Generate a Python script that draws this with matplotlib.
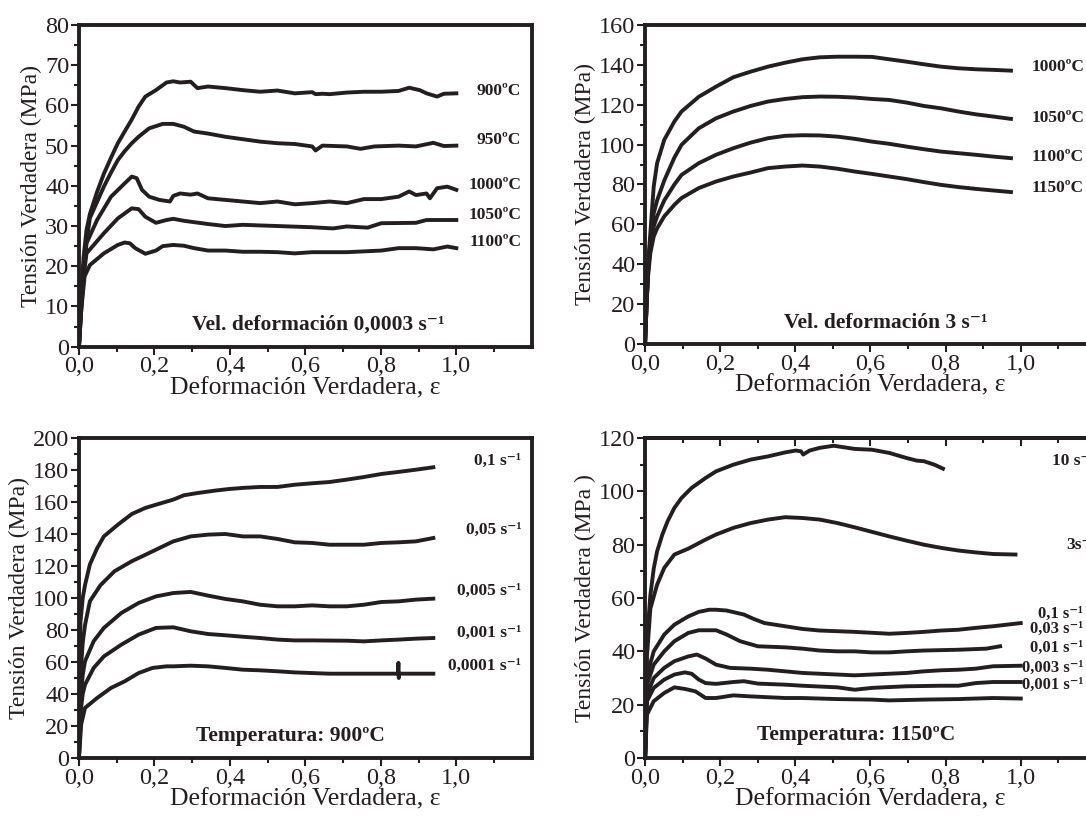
import matplotlib
matplotlib.use('Agg')
import matplotlib.pyplot as plt
from matplotlib.ticker import MultipleLocator, FixedLocator, FuncFormatter

plt.rcParams['font.family'] = ['Liberation Serif', 'DejaVu Serif']

ink = '#231f20'
sup = '\u207b\u00b9'  # superindice -1

# --- Panel 1: velocidad 0,0003 s-1, distintas temperaturas ---
x_900 = [0, 0.006, 0.012, 0.020, 0.029, 0.048, 0.066, 0.085, 0.103, 0.121, 0.140, 0.158, 0.176, 0.204,
         0.232, 0.250, 0.268, 0.296, 0.314, 0.342, 0.388, 0.434, 0.480, 0.526, 0.572, 0.618, 0.627,
         0.645, 0.664, 0.710, 0.755, 0.801, 0.847, 0.875, 0.903, 0.921, 0.949, 0.967, 1.0]
y_900 = [0, 12, 22, 29, 33, 38.5, 43, 47, 50.6, 53.5, 56.5, 59.7, 62.2, 63.8,
         65.7, 66, 65.7, 65.9, 64.3, 64.7, 64.3, 63.8, 63.4, 63.7, 63.0, 63.3, 62.8,
         62.9, 62.8, 63.2, 63.4, 63.4, 63.6, 64.4, 63.8, 63.0, 62.2, 62.9, 63.0]

x_950 = [0, 0.006, 0.012, 0.020, 0.029, 0.048, 0.066, 0.085, 0.103, 0.121, 0.140, 0.158, 0.186, 0.222,
         0.250, 0.278, 0.305, 0.342, 0.388, 0.434, 0.480, 0.526, 0.572, 0.618, 0.627, 0.645, 0.710,
         0.746, 0.783, 0.847, 0.893, 0.939, 0.967, 1.0]
y_950 = [0, 11, 20, 26, 32, 36, 39.8, 43.3, 46.4, 48.6, 50.6, 52.2, 54.3, 55.4,
         55.4, 54.7, 53.5, 53, 52.2, 51.6, 51, 50.6, 50.4, 49.8, 48.8, 50, 49.8,
         49.2, 49.8, 50, 49.8, 50.7, 49.9, 50]

x_1000 = [0, 0.006, 0.012, 0.020, 0.048, 0.085, 0.121, 0.140, 0.153, 0.167, 0.186, 0.213, 0.241, 0.250,
          0.268, 0.296, 0.314, 0.342, 0.388, 0.434, 0.480, 0.526, 0.572, 0.618, 0.664, 0.710, 0.755,
          0.801, 0.847, 0.875, 0.893, 0.921, 0.930, 0.949, 0.976, 1.0]
y_1000 = [0, 10, 18, 25.7, 31.5, 37.3, 40.6, 42.3, 41.9, 39, 37.3, 36.5, 36.1, 37.5,
          38.1, 37.8, 38.1, 36.9, 36.5, 36.1, 35.7, 36.1, 35.4, 35.7, 36.1, 35.7, 36.7,
          36.7, 37.3, 38.6, 37.7, 38.1, 36.9, 39.4, 39.8, 39.0]

x_1050 = [0, 0.006, 0.012, 0.020, 0.066, 0.103, 0.140, 0.158, 0.176, 0.204, 0.232, 0.250, 0.278, 0.342,
          0.388, 0.434, 0.526, 0.618, 0.673, 0.710, 0.765, 0.801, 0.893, 0.921, 1.0]
y_1050 = [0, 9, 17, 23.2, 28.2, 31.9, 34.4, 34.2, 32.3, 30.8, 31.5, 31.8, 31.3, 30.5,
          30.0, 30.3, 30.0, 29.7, 29.4, 29.9, 29.6, 30.7, 30.8, 31.5, 31.5]

x_1100 = [0, 0.006, 0.015, 0.029, 0.066, 0.103, 0.121, 0.135, 0.149, 0.176, 0.204, 0.222, 0.250, 0.278,
          0.305, 0.342, 0.388, 0.434, 0.480, 0.526, 0.572, 0.618, 0.710, 0.801, 0.847, 0.893, 0.939,
          0.976, 1.0]
y_1100 = [0, 9, 17.5, 20.3, 23.2, 25.3, 25.9, 25.7, 24.5, 23.1, 23.9, 25, 25.3, 25.1,
          24.5, 23.9, 23.9, 23.6, 23.6, 23.5, 23.2, 23.5, 23.5, 23.9, 24.5, 24.5, 24.2,
          24.9, 24.5]

# --- Panel 2: velocidad 3 s-1 ---
x_3s = [0, 0.004, 0.008, 0.014, 0.023, 0.032, 0.051, 0.078, 0.097, 0.143, 0.189, 0.235, 0.281, 0.327,
        0.373, 0.419, 0.465, 0.512, 0.558, 0.604, 0.650, 0.696, 0.742, 0.788, 0.834, 0.880, 0.926, 0.974]
y_3s_1000 = [0, 20, 40, 55.6, 79, 90.7, 102.4, 111.6, 116.6, 124, 129.1, 133.8, 136.6, 139.1,
             141.1, 142.8, 143.8, 144.1, 144.1, 144.0, 142.8, 141.6, 140.3, 139.1, 138.3, 137.8, 137.5, 137.1]
y_3s_1050 = [0, 20, 38, 52.3, 65.6, 72, 82, 93.5, 99.9, 108.2, 113.2, 116.6, 119.4, 121.6,
             122.9, 123.8, 124.1, 124.0, 123.6, 122.9, 122.4, 121.1, 119.4, 118.2, 116.6, 115.2, 114.1, 112.9]
y_3s_1100 = [0, 20, 36, 48.9, 59, 64, 72, 80, 84.8, 90.7, 94.9, 98.2, 101, 103.2,
             104.4, 104.7, 104.6, 104, 102.9, 101.5, 100.4, 99, 97.7, 96.5, 95.7, 94.9, 94, 93.2]
y_3s_1150 = [0, 20, 34, 45.6, 53.9, 58, 64, 69.8, 73.2, 78.2, 81.5, 84, 86, 88.2,
             89, 89.5, 89, 87.9, 86.5, 85.3, 84, 82.7, 81.2, 79.8, 78.7, 77.8, 77, 76.2]

# --- Panel 3: temperatura 900ºC ---
x_01 = [0, 0.004, 0.010, 0.016, 0.029, 0.048, 0.066, 0.103, 0.140, 0.176, 0.204, 0.250, 0.278, 0.314,
        0.360, 0.397, 0.434, 0.480, 0.526, 0.572, 0.618, 0.664, 0.710, 0.755, 0.801, 0.847, 0.893, 0.939]
y_01 = [0, 85, 100, 108, 121, 131, 138.5, 145.8, 152.5, 156.3, 158.3, 161.5, 164.2, 165.6,
        167.1, 168.1, 168.8, 169.4, 169.4, 170.8, 171.7, 172.5, 174, 175.6, 177.5, 178.8, 180.2, 181.7]

x_005 = [0, 0.005, 0.010, 0.016, 0.029, 0.057, 0.094, 0.140, 0.176, 0.204, 0.250, 0.296, 0.342, 0.388,
         0.434, 0.480, 0.526, 0.572, 0.618, 0.664, 0.710, 0.755, 0.801, 0.847, 0.893, 0.939]
y_005 = [0, 55, 72, 83, 98, 108, 116.7, 123, 127, 130.2, 135.4, 138.5, 139.6, 140,
         138.5, 138.5, 136.9, 134.8, 134.4, 133.3, 133.3, 133.3, 134.4, 134.8, 135.4, 137.5]

x_0005 = [0, 0.005, 0.010, 0.016, 0.039, 0.066, 0.112, 0.158, 0.204, 0.250, 0.296, 0.342, 0.388, 0.434,
          0.480, 0.526, 0.572, 0.618, 0.664, 0.710, 0.755, 0.801, 0.847, 0.893, 0.939]
y_0005 = [0, 38, 52, 60.4, 73, 81.3, 90.6, 96.9, 101, 103.1, 103.8, 101.5, 99.4, 97.9,
          95.8, 94.8, 94.8, 95.4, 94.8, 94.8, 95.8, 97.5, 97.9, 99, 99.6]

x_0001 = [0, 0.005, 0.010, 0.016, 0.039, 0.066, 0.112, 0.158, 0.204, 0.250, 0.296, 0.342, 0.388, 0.434,
          0.480, 0.526, 0.572, 0.618, 0.710, 0.755, 0.801, 0.847, 0.893, 0.939]
y_0001 = [0, 30, 40, 45.8, 56.3, 63.5, 70.8, 77.1, 81.3, 81.7, 79.2, 77.5, 76.7, 75.8,
          75, 74, 73.5, 73.5, 73.3, 72.9, 73.5, 74, 74.6, 75]

x_00001 = [0, 0.006, 0.016, 0.048, 0.085, 0.121, 0.158, 0.195, 0.232, 0.250, 0.296, 0.342, 0.388, 0.434,
           0.480, 0.526, 0.572, 0.618, 0.664, 0.710, 0.755, 0.801, 0.845, 0.8465, 0.8475, 0.849,
           0.893, 0.939]
y_00001 = [0, 21, 31.3, 37.5, 43.8, 47.9, 53.1, 56.3, 57.3, 57.3, 57.7, 57.3, 56.3, 55.2,
           54.8, 54.2, 53.5, 53.1, 52.7, 52.7, 52.7, 52.7, 52.7, 59.5, 50, 52.7,
           52.7, 52.7]

# --- Panel 4: temperatura 1150ºC ---
x_10 = [0, 0.005, 0.014, 0.023, 0.032, 0.046, 0.060, 0.078, 0.097, 0.124, 0.161, 0.189, 0.235, 0.281,
        0.327, 0.373, 0.401, 0.415, 0.421, 0.438, 0.465, 0.502, 0.530, 0.558, 0.604, 0.650, 0.696,
        0.724, 0.742, 0.770, 0.793]
y_10 = [0, 43.8, 61, 71, 77.5, 83.8, 88.8, 93.8, 97.5, 101.3, 105, 107.5, 110, 111.9,
        113.1, 114.6, 115.3, 115.0, 113.8, 115.3, 116.3, 117.1, 116.5, 115.9, 115.6, 114.4, 112.5,
        111.5, 111.3, 110, 108.5]

x_3 = [0, 0.005, 0.014, 0.032, 0.051, 0.078, 0.115, 0.161, 0.189, 0.235, 0.281, 0.327, 0.373, 0.419,
       0.465, 0.512, 0.558, 0.604, 0.650, 0.696, 0.742, 0.788, 0.834, 0.880, 0.926, 0.986]
y_3 = [0, 38, 56, 65, 71.3, 76.3, 78.5, 81.9, 83.8, 86.3, 88.1, 89.4, 90.3, 90,
       89.4, 88.1, 86.5, 84.8, 83.1, 81.5, 80, 78.8, 77.8, 77.1, 76.5, 76.3]

x_c01 = [0, 0.005, 0.023, 0.051, 0.078, 0.115, 0.143, 0.171, 0.189, 0.217, 0.263, 0.290, 0.318, 0.373,
         0.419, 0.465, 0.558, 0.650, 0.696, 0.742, 0.788, 0.834, 0.880, 0.926, 1.0]
y_c01 = [0, 31, 40, 46.3, 50, 53.1, 54.8, 55.6, 55.6, 55.3, 53.8, 52.1, 50.6, 49.4,
         48.4, 47.8, 47.3, 46.6, 46.9, 47.3, 47.8, 48.1, 48.8, 49.4, 50.6]

x_c003 = [0, 0.005, 0.023, 0.051, 0.078, 0.115, 0.143, 0.189, 0.217, 0.253, 0.300, 0.373, 0.419, 0.465,
          0.512, 0.558, 0.604, 0.650, 0.696, 0.742, 0.834, 0.908, 0.945]
y_c003 = [0, 27.5, 35, 40, 43.8, 46.9, 47.9, 47.9, 46.3, 43.8, 41.9, 41.5, 41, 40.3,
          40, 40, 39.6, 39.6, 40, 40.3, 40.6, 41, 41.9]

x_c001 = [0, 0.005, 0.023, 0.051, 0.078, 0.115, 0.138, 0.161, 0.189, 0.226, 0.281, 0.327, 0.373, 0.419,
          0.465, 0.512, 0.558, 0.604, 0.650, 0.696, 0.742, 0.788, 0.834, 0.880, 0.926, 1.0]
y_c001 = [0, 23.8, 30, 33.8, 36.3, 38.1, 38.8, 37.3, 35, 33.8, 33.5, 33.1, 32.5, 31.9,
          31.6, 31.3, 31, 31.3, 31.6, 31.9, 32.5, 32.9, 33.1, 33.5, 34.4, 34.6]

x_c0003 = [0, 0.005, 0.023, 0.051, 0.078, 0.106, 0.124, 0.143, 0.161, 0.189, 0.235, 0.263, 0.300, 0.373,
           0.419, 0.512, 0.558, 0.604, 0.696, 0.788, 0.834, 0.880, 0.926, 1.0]
y_c0003 = [0, 21.3, 26.3, 29.4, 31.3, 32.1, 31.6, 29.4, 28.1, 27.8, 28.5, 28.8, 27.9, 27.5,
           27.1, 26.5, 25.6, 26.3, 26.9, 27.1, 27.1, 28.1, 28.5, 28.5]

x_c0001 = [0, 0.005, 0.023, 0.051, 0.078, 0.106, 0.134, 0.161, 0.189, 0.235, 0.281, 0.373, 0.419, 0.512,
           0.604, 0.650, 0.742, 0.834, 0.926, 1.0]
y_c0001 = [0, 16.3, 21.3, 24.4, 26.5, 25.9, 25, 22.5, 22.5, 23.5, 23.1, 22.5, 22.5, 22.1,
           21.9, 21.6, 21.9, 22.1, 22.5, 22.3]

xlabel = 'Deformación Verdadera, ε'
x_major = [0, 0.2, 0.4, 0.6, 0.8, 1.0]
x_minor = [0.1, 0.3, 0.5, 0.7, 0.9, 1.1]


def estilo(ax, ymax, ymajor, ylabel):
    ax.set_xlim(0, 1.2)
    ax.set_ylim(0, ymax)
    ax.xaxis.set_major_locator(FixedLocator(x_major))
    ax.xaxis.set_minor_locator(FixedLocator(x_minor))
    ax.xaxis.set_major_formatter(FuncFormatter(lambda v, p: f'{v:.1f}'.replace('.', ',')))
    ax.yaxis.set_major_locator(MultipleLocator(ymajor))
    ax.yaxis.set_minor_locator(MultipleLocator(ymajor / 2))
    ax.tick_params(which='both', direction='out', width=1.5, color=ink, labelsize=17.5, pad=1,
                   labelcolor=ink, top=False, right=False)
    ax.tick_params(which='major', length=6)
    ax.tick_params(which='minor', length=3.5)
    for s in ax.spines.values():
        s.set_linewidth(2.8)
        s.set_color(ink)
    ax.set_xlabel(xlabel, fontsize=18.5, color=ink, labelpad=0)
    ax.set_ylabel(ylabel, fontsize=17, color=ink, labelpad=2)


fig = plt.figure(figsize=(10.86, 8.17), dpi=100)
# los paneles de la derecha quedan cortados por el borde, como en la figura original
ax1 = fig.add_axes([0.0727, 0.5757, 0.4170, 0.3937])
ax2 = fig.add_axes([0.5940, 0.5790, 0.4151, 0.3904])
ax3 = fig.add_axes([0.0727, 0.0722, 0.4170, 0.3917])
ax4 = fig.add_axes([0.5940, 0.0722, 0.4151, 0.3917])

lw = 2.8
lab = dict(fontsize=12.5, fontweight='bold', color=ink, va='center')
nota = dict(fontsize=15.5, fontweight='bold', color=ink, ha='center', va='center')

# Panel 1
for x, y in [(x_900, y_900), (x_950, y_950), (x_1000, y_1000), (x_1050, y_1050), (x_1100, y_1100)]:
    ax1.plot(x, y, color=ink, lw=lw, solid_joinstyle='round')
for txt, yy in [('900ºC', 63.5), ('950ºC', 51.4), ('1000ºC', 40.2), ('1050ºC', 32.8), ('1100ºC', 26.1)]:
    ax1.text(1.172, yy, txt, ha='right', **lab)
ax1.text(0.634, 5.4, 'Vel. deformación 0,0003 s' + sup, **nota)
estilo(ax1, 80, 10, 'Tensión Verdadera (MPa)')

# Panel 2
for y in [y_3s_1000, y_3s_1050, y_3s_1100, y_3s_1150]:
    ax2.plot(x_3s, y, color=ink, lw=lw)
for txt, yy in [('1000ºC', 139.1), ('1050ºC', 113.2), ('1100ºC', 94), ('1150ºC', 78.1)]:
    ax2.text(1.03, yy, txt, ha='left', **lab)
ax2.text(0.64, 10.4, 'Vel. deformación 3 s' + sup, **nota)
estilo(ax2, 160, 20, 'Tensión Verdadera (MPa)')

# Panel 3
for x, y in [(x_01, y_01), (x_005, y_005), (x_0005, y_0005), (x_0001, y_0001), (x_00001, y_00001)]:
    ax3.plot(x, y, color=ink, lw=lw)
for txt, yy in [('0,1 s', 185.8), ('0,05 s', 142.7), ('0,005 s', 104.2), ('0,001 s', 78.1), ('0,0001 s', 57.3)]:
    ax3.text(1.172, yy, txt + sup, ha='right', **lab)
ax3.text(0.56, 13.5, 'Temperatura: 900ºC', **nota)
estilo(ax3, 200, 20, 'Tensión Verdadera (MPa)')

# Panel 4
for x, y in [(x_10, y_10), (x_3, y_3), (x_c01, y_c01), (x_c003, y_c003), (x_c001, y_c001),
             (x_c0003, y_c0003), (x_c0001, y_c0001)]:
    ax4.plot(x, y, color=ink, lw=lw)
ax4.text(1.084, 111.3, '10 s' + sup, ha='left', **lab)
ax4.text(1.12, 80, '3s' + sup, ha='left', **lab)
lab4 = dict(lab, fontsize=12)
for txt, yy in [('0,1 s', 53.9), ('0,03 s', 48.5), ('0,01 s', 41.2), ('0,003 s', 33.7), ('0,001 s', 27.5)]:
    ax4.text(1.167, yy, txt + sup, ha='right', **lab4)
ax4.text(0.561, 8.7, 'Temperatura: 1150ºC', **nota)
estilo(ax4, 120, 20, 'Tensión Verdadera (MPa )')
# marcas hacia dentro en el borde superior
top = ax4.secondary_xaxis('top')
top.xaxis.set_major_locator(FixedLocator(x_major))
top.xaxis.set_minor_locator(FixedLocator(x_minor))
top.tick_params(which='both', direction='in', labeltop=False, width=1.5, color=ink)
top.tick_params(which='major', length=6)
top.tick_params(which='minor', length=3.5)
top.spines['top'].set_linewidth(2.8)
top.spines['top'].set_color(ink)

fig.savefig('out.png', dpi=100)
